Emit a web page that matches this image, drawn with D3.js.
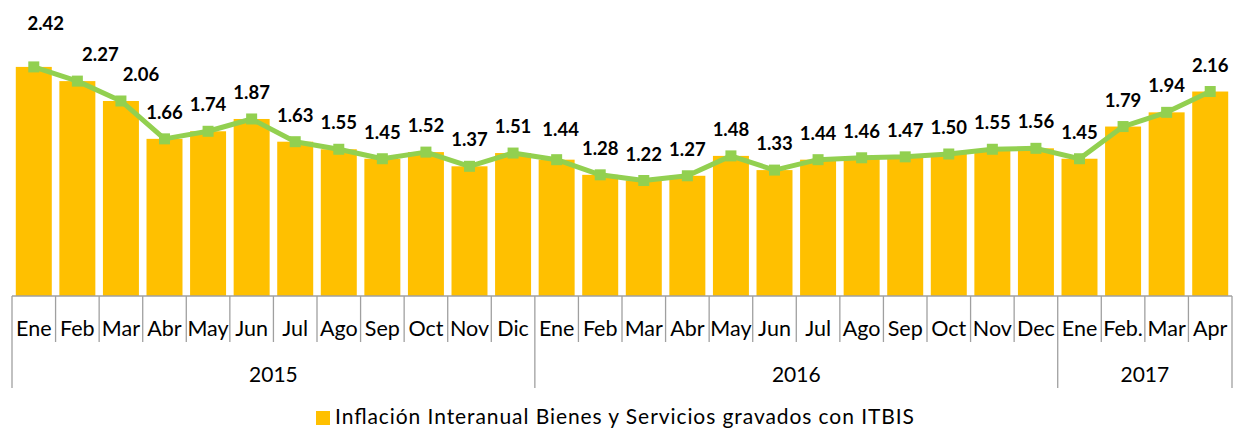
<!DOCTYPE html>
<html>
<head>
<meta charset="utf-8">
<script src="https://cdn.jsdelivr.net/npm/d3@7"></script>
<style>
  html, body { margin: 0; padding: 0; background: #fff; }
  svg { display: block; }
  text { font-family: Lato, "Open Sans", "Noto Sans", sans-serif; }
</style>
</head>
<body>
<svg id="chart" width="1233" height="428"></svg>
<script>
// Month labels per year
const years = ["2015", "2016", "2017"];
const months2015 = ["Ene", "Feb", "Mar", "Abr", "May", "Jun", "Jul", "Ago", "Sep", "Oct", "Nov", "Dic"];
const months2016 = ["Ene", "Feb", "Mar", "Abr", "May", "Jun", "Jul", "Ago", "Sep", "Oct", "Nov", "Dec"];
const months2017 = ["Ene", "Feb.", "Mar", "Apr"];

// Year-on-year inflation, goods and services taxed with ITBIS (%)
const values2015 = [2.42, 2.27, 2.06, 1.66, 1.74, 1.87, 1.63, 1.55, 1.45, 1.52, 1.37, 1.51];
const values2016 = [1.44, 1.28, 1.22, 1.27, 1.48, 1.33, 1.44, 1.46, 1.47, 1.50, 1.55, 1.56];
const values2017 = [1.45, 1.79, 1.94, 2.16];

const seriesName = "Inflación Interanual Bienes y Servicios gravados con ITBIS";

// Build flat rows
const groups = [
  { year: years[0], months: months2015, values: values2015 },
  { year: years[1], months: months2016, values: values2016 },
  { year: years[2], months: months2017, values: values2017 }
];
const rows = [];
groups.forEach(g => g.months.forEach((m, i) => rows.push({ year: g.year, month: m, value: g.values[i] })));
rows.forEach((r, i) => r.idx = i);

const svg = d3.select("#chart");
const plotLeft = 12, plotRight = 1232, baseline = 296, plotTop = 12;

const x = d3.scaleBand()
  .domain(rows.map(r => r.idx))
  .range([plotLeft, plotRight])
  .paddingInner(0.174)
  .paddingOuter(0.087);
const step = x.step();
const slotStart = i => plotLeft + i * step;
const cx = i => x(i) + x.bandwidth() / 2;

const y = d3.scaleLinear().domain([0, 3]).range([baseline, plotTop]);

const BAR = "#FFC000", LINE = "#92D050", AXIS = "#A0A0A0";

// Bars
svg.append("g").selectAll("rect").data(rows).join("rect")
  .attr("x", d => x(d.idx))
  .attr("y", d => y(d.value))
  .attr("width", x.bandwidth())
  .attr("height", d => y(0) - y(d.value))
  .attr("fill", BAR);

// Line with square markers
const line = d3.line().x(d => cx(d.idx)).y(d => y(d.value));
svg.append("path").datum(rows)
  .attr("d", line)
  .attr("fill", "none")
  .attr("stroke", LINE)
  .attr("stroke-width", 5)
  .attr("stroke-linejoin", "round");
const ms = 11;
svg.append("g").selectAll("rect").data(rows).join("rect")
  .attr("x", d => cx(d.idx) - ms / 2)
  .attr("y", d => y(d.value) - ms / 2)
  .attr("width", ms).attr("height", ms)
  .attr("fill", LINE);

// Value labels; the first few are nudged clear of the descending line
const nudge = { 0: [12, -17], 1: [23, 0], 2: [20, 0], 12: [4, -4] };
svg.append("g").selectAll("text").data(rows).join("text")
  .attr("x", d => cx(d.idx) + (nudge[d.idx] ? nudge[d.idx][0] : 0))
  .attr("y", d => y(d.value) - 20 + (nudge[d.idx] ? nudge[d.idx][1] : 0))
  .attr("text-anchor", "middle")
  .attr("font-size", 18.5)
  .attr("font-weight", 700)
  .attr("fill", "#000")
  .text(d => d.value.toFixed(2));

// Category axis: baseline, month dividers, year dividers
const ax = svg.append("g").attr("stroke", AXIS).attr("stroke-width", 1.3);
ax.append("line").attr("x1", plotLeft).attr("x2", plotRight).attr("y1", baseline).attr("y2", baseline);
const yearBounds = [0];
let acc = 0;
groups.forEach(g => { acc += g.months.length; yearBounds.push(acc); });
d3.range(rows.length + 1).forEach(i => {
  const isYear = yearBounds.includes(i);
  ax.append("line")
    .attr("x1", slotStart(i)).attr("x2", slotStart(i))
    .attr("y1", baseline).attr("y2", isYear ? 388 : 342);
});

// Month labels
svg.append("g").selectAll("text").data(rows).join("text")
  .attr("x", d => slotStart(d.idx) + step / 2)
  .attr("y", 336)
  .attr("text-anchor", "middle")
  .attr("font-size", 21.5)
  .attr("fill", "#000")
  .text(d => d.month);

// Year labels
svg.append("g").selectAll("text").data(groups).join("text")
  .attr("x", (g, i) => (slotStart(yearBounds[i]) + slotStart(yearBounds[i + 1])) / 2)
  .attr("y", 382)
  .attr("text-anchor", "middle")
  .attr("font-size", 21)
  .attr("fill", "#000")
  .text(g => g.year);

// Legend
const legend = svg.append("g");
legend.append("rect").attr("x", 316).attr("y", 411).attr("width", 14).attr("height", 14).attr("fill", BAR);
legend.append("text")
  .attr("x", 335).attr("y", 424)
  .attr("font-size", 21)
  .attr("textLength", 579)
  .attr("lengthAdjust", "spacing")
  .attr("fill", "#000")
  .text(seriesName);
</script>
</body>
</html>
